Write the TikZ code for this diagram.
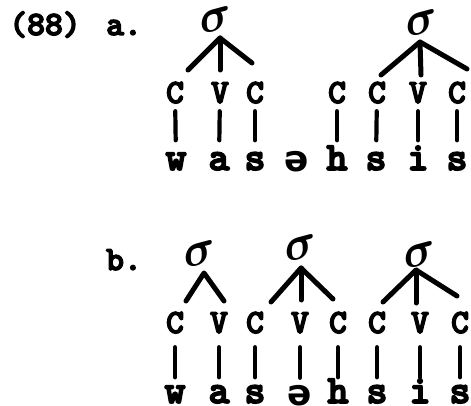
\documentclass[tikz,border=0pt]{standalone}
\usepackage{fontspec}
\newfontfamily\twfamily{lmmonolt10-bold.otf}[FakeBold=4]
\newfontfamily\schwafamily{DejaVu Sans}
\tikzset{
  segcv/.style={font=\twfamily\fontsize{34pt}{34pt}\selectfont, inner sep=0pt, text height=20pt, text depth=0pt, anchor=base},
  seglet/.style={font=\twfamily\fontsize{40pt}{40pt}\selectfont, inner sep=0pt, text height=17.5pt, text depth=0pt, anchor=base},
  schwa/.style={font=\schwafamily\bfseries\fontsize{36pt}{36pt}\selectfont, inner sep=0pt, text height=19pt, text depth=0pt, anchor=base},
  lbl/.style={font=\twfamily\fontsize{34pt}{34pt}\selectfont, inner sep=0pt, anchor=base},
  syl/.style={font=\Huge\boldmath, scale=1.9, inner sep=0pt, rotate=15},
  assocA/.style={line width=4.2pt, line cap=round, shorten <=8pt, shorten >=12pt},
  assocB/.style={line width=4.2pt, line cap=round, shorten <=14pt, shorten >=8pt},
  branch/.style={line width=5pt, line cap=round, line join=round},
}
\begin{document}
\begin{tikzpicture}[x=1pt,y=-1pt]
\useasboundingbox (0,0) rectangle (471,406);
% ---------- (88) a.
\node[lbl] (n88) at (45,35) {(88)};
\node[lbl] (la) at (124,35) {a.};
\node[syl] (sA1) at (216,20) {$\sigma$};
\node[syl] (sA2) at (422,23) {$\sigma$};
% CV tier
\node[segcv] (cA1) at (175,103) {C};
\node[segcv] (vA1) at (220,103) {V};
\node[segcv] (cA2) at (255,103) {C};
\node[segcv] (cA3) at (337,103) {C};
\node[segcv] (cA4) at (377,103) {C};
\node[segcv] (vA2) at (418,103) {V};
\node[segcv] (cA5) at (457,103) {C};
% segments
\node[seglet] (wA) at (176,170) {w};
\node[seglet] (aA) at (219,170) {a};
\node[seglet] (sA) at (255,170) {s};
\node[schwa] (eA) at (297,172) {ə};
\node[seglet] (hA) at (337,170) {h};
\node[seglet] (ssA) at (376,170) {s};
\node[seglet] (iA) at (418,170) {i};
\node[seglet] (sssA) at (457,170) {s};
\foreach \u/\v in {cA1/wA, vA1/aA, cA2/sA, cA3/hA, cA4/ssA, vA2/iA, cA5/sssA}
  \draw[assocA] (\u) -- (\v);
% branches a
\coordinate (pA1) at (220,38);
\coordinate (pA1l) at (188,70);
\coordinate (pA1m) at (220,70);
\coordinate (pA1r) at (252,63);
\draw[branch] (pA1l) -- (pA1) -- (pA1r);
\draw[branch] (pA1) -- (pA1m);
\coordinate (pA2) at (420,42);
\coordinate (pA2l) at (381,75);
\coordinate (pA2m) at (421,75);
\coordinate (pA2r) at (467,69);
\draw[branch] (pA2l) -- (pA2) -- (pA2r);
\draw[branch] (pA2) -- (pA2m);
% ---------- b.
\node[lbl] (lb) at (124,270) {b.};
\node[syl] (sB1) at (200,254) {$\sigma$};
\node[syl] (sB2) at (301,248) {$\sigma$};
\node[syl] (sB3) at (420,255) {$\sigma$};
\node[segcv] (cB1) at (175,333) {C};
\node[segcv] (vB1) at (219,333) {V};
\node[segcv] (cB2) at (255,333) {C};
\node[segcv] (vB2) at (300,333) {V};
\node[segcv] (cB3) at (338,333) {C};
\node[segcv] (cB4) at (377,333) {C};
\node[segcv] (vB3) at (420,333) {V};
\node[segcv] (cB5) at (460,333) {C};
\node[seglet] (wB) at (175,403) {w};
\node[seglet] (aB) at (219,403) {a};
\node[seglet] (sB) at (255,403) {s};
\node[schwa] (eB) at (300,405) {ə};
\node[seglet] (hB) at (338,403) {h};
\node[seglet] (ssB) at (377,403) {s};
\node[seglet] (iB) at (420,403) {i};
\node[seglet] (sssB) at (460,403) {s};
\foreach \u/\v in {cB1/wB, vB1/aB, cB2/sB, vB2/eB, cB3/hB, cB4/ssB, vB3/iB, cB5/sssB}
  \draw[assocB] (\u) -- (\v);
% branches b
\coordinate (pB1) at (204,273);
\coordinate (pB1l) at (186,301);
\coordinate (pB1r) at (224,301);
\draw[branch] (pB1l) -- (pB1) -- (pB1r);
\coordinate (pB2) at (301,268);
\coordinate (pB2l) at (271,302);
\coordinate (pB2m) at (301,300);
\coordinate (pB2r) at (333,299);
\draw[branch] (pB2l) -- (pB2) -- (pB2r);
\draw[branch] (pB2) -- (pB2m);
\coordinate (pB3) at (416,270);
\coordinate (pB3l) at (383,302);
\coordinate (pB3m) at (416,303);
\coordinate (pB3r) at (457,296);
\draw[branch] (pB3l) -- (pB3) -- (pB3r);
\draw[branch] (pB3) -- (pB3m);
\end{tikzpicture}
\end{document}
